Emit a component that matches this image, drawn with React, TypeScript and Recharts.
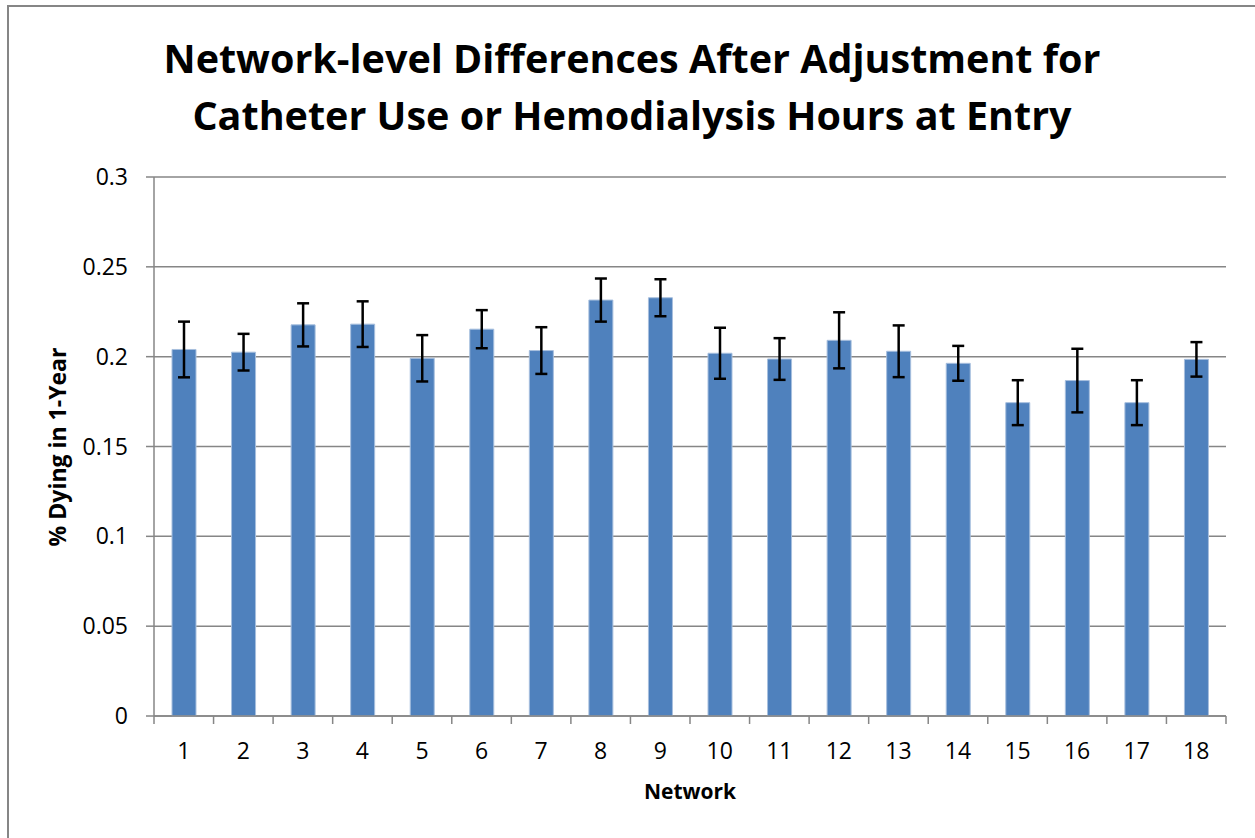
import React from 'react';
import { BarChart, Bar, XAxis, YAxis, CartesianGrid, ErrorBar } from 'recharts';

const networks = ['1', '2', '3', '4', '5', '6', '7', '8', '9', '10', '11', '12', '13', '14', '15', '16', '17', '18'];
const dyingRate = [0.204, 0.2025, 0.2177, 0.2181, 0.1991, 0.2153, 0.2034, 0.2315, 0.2328, 0.2019, 0.1987, 0.2091, 0.203, 0.1963, 0.1744, 0.1867, 0.1744, 0.1985];
const errorSize = [0.0155, 0.0102, 0.012, 0.0127, 0.0129, 0.0106, 0.013, 0.012, 0.0103, 0.0142, 0.0116, 0.0156, 0.0144, 0.0097, 0.0125, 0.0177, 0.0125, 0.0096];
const yTicks = [0, 0.05, 0.1, 0.15, 0.2, 0.25, 0.3];

const data = networks.map((n, i) => ({ network: n, rate: dyingRate[i], err: errorSize[i] }));

const W = 1255;
const H = 838;
const MARGIN = { top: 177, right: 29, bottom: 0, left: 0 };
const Y_AXIS_W = 154;
const X_AXIS_H = 122;
const FONT = '"Open Sans", Lato, sans-serif';
const GRID = '#868686';

const band = (W - MARGIN.right - MARGIN.left - Y_AXIS_W) / networks.length;

const XTick = (props: any) => {
  const { x, y, payload, index } = props;
  const half = band / 2;
  return (
    <g>
      <line x1={x - half} x2={x - half} y1={y} y2={y + 8} stroke={GRID} strokeWidth={1.5} />
      {index === networks.length - 1 && (
        <line x1={x + half} x2={x + half} y1={y} y2={y + 8} stroke={GRID} strokeWidth={1.5} />
      )}
      <text x={x} y={y + 43} textAnchor="middle" fontSize={23} fill="#000" fontFamily={FONT}>
        {payload.value}
      </text>
    </g>
  );
};

export default function App() {
  return (
    <div style={{ position: 'fixed', left: 0, top: 0, width: W, height: H, overflow: 'hidden', background: '#fff' }}>
      <div
        style={{
          position: 'absolute',
          left: 7,
          top: 5,
          width: 1300,
          height: 900,
          border: `2px solid ${GRID}`,
        }}
      />
      <div style={{ position: 'absolute', left: 0, top: 0 }}>
        <BarChart width={W} height={H} data={data} margin={MARGIN}>
          <CartesianGrid vertical={false} stroke={GRID} strokeWidth={1.5} />
          <XAxis
            dataKey="network"
            height={X_AXIS_H}
            tickLine={false}
            tickSize={0}
            tickMargin={0}
            interval={0}
            stroke={GRID}
            strokeWidth={1.5}
            tick={<XTick />}
          />
          <YAxis
            width={Y_AXIS_W}
            domain={[0, 0.3]}
            ticks={yTicks}
            interval={0}
            tickSize={8}
            tickMargin={18}
            stroke={GRID}
            strokeWidth={1.5}
            tick={{ fill: '#000', fontSize: 23, fontFamily: FONT }}
          />
          <Bar dataKey="rate" fill="#4F81BD" stroke="#A7BFDE" strokeWidth={1} barSize={24} isAnimationActive={false}>
            <ErrorBar dataKey="err" width={6} stroke="#000" strokeWidth={2.5} direction="y" />
          </Bar>
        </BarChart>
      </div>
      <svg width={W} height={H} style={{ position: 'absolute', left: 0, top: 0, pointerEvents: 'none' }}>
        <text x={632} y={73} textAnchor="middle" fontSize={39.5} fontWeight="bold" fontFamily={FONT} fill="#000">
          Network-level Differences After Adjustment for
        </text>
        <text x={632} y={130} textAnchor="middle" fontSize={39.5} fontWeight="bold" fontFamily={FONT} fill="#000">
          Catheter Use or Hemodialysis Hours at Entry
        </text>
        <text
          x={0}
          y={0}
          transform="translate(66 447) rotate(-90)"
          textAnchor="middle"
          fontSize={23}
          fontWeight="bold"
          fontFamily={FONT}
          fill="#000"
        >
          % Dying in 1-Year
        </text>
        <text x={690} y={799} textAnchor="middle" fontSize={21} fontWeight="bold" fontFamily={FONT} fill="#000">
          Network
        </text>
      </svg>
    </div>
  );
}
